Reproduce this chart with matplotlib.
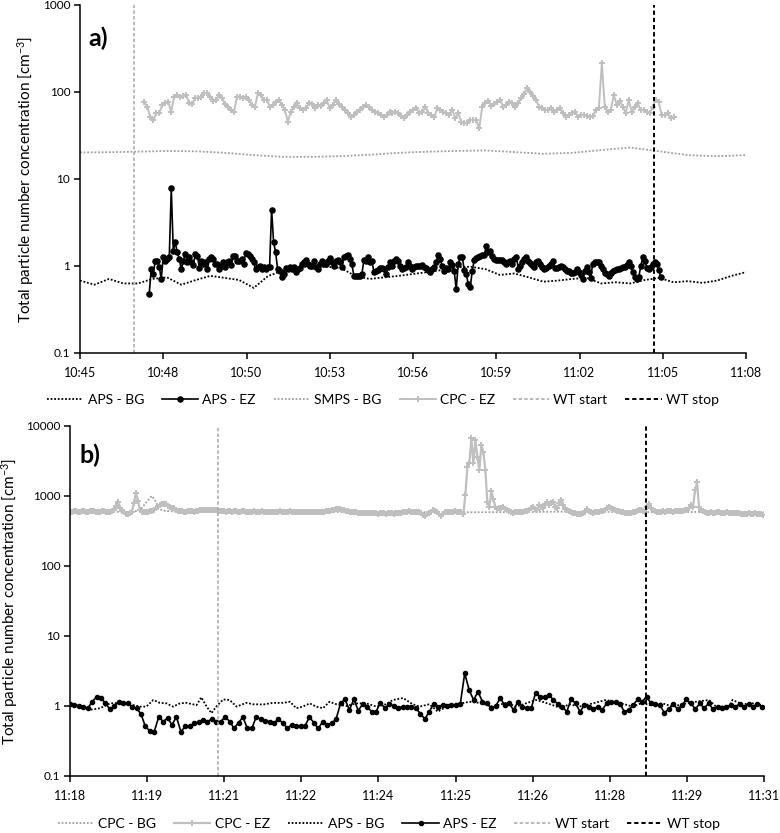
import numpy as np
import matplotlib
matplotlib.use("Agg")
import matplotlib.pyplot as plt
from matplotlib.ticker import NullLocator

plt.rcParams["font.family"] = ["Lato", "DejaVu Sans"]
plt.rcParams["mathtext.default"] = "regular"

# ---------------- panel a) 10:45 - 11:08 ----------------
A_TICK_LABELS = ["10:45", "10:48", "10:50", "10:53", "10:56", "10:59", "11:02", "11:05", "11:08"]
A_SPAN_MIN = 23.0          # minutes shown on the axis
A_WT_START = 1.87          # minutes after 10:45
A_WT_STOP = 19.82

# APS background, one value every 0.5 min from 10:45
A_APS_BG = [0.68, 0.61, 0.71, 0.63, 0.63, 0.71, 0.74, 0.61, 0.69, 0.77,
            0.73, 0.69, 0.56, 0.77, 0.88, 0.95, 1.00, 0.98, 0.95, 0.77,
            0.71, 0.74, 0.77, 0.81, 0.85, 0.90, 0.97, 0.98, 0.92, 0.79,
            0.82, 0.74, 0.66, 0.68, 0.71, 0.73, 0.63, 0.65, 0.63, 0.69,
            0.73, 0.65, 0.67, 0.64, 0.68, 0.77, 0.85]

# SMPS background, one value per minute from 10:45
A_SMPS_BG = [20.2, 20.3, 20.6, 21.0, 20.8, 20.0, 18.8, 18.0, 18.0, 18.3,
             19.0, 20.0, 20.6, 21.0, 21.3, 20.4, 19.5, 20.0, 21.5, 23.0,
             20.8, 18.8, 18.3, 18.8]

# APS exposure zone, evenly sampled between the two times below
A_APS_EZ_T = (2.39, 20.06)
A_APS_EZ = [0.48, 0.92, 0.81, 1.15, 1.15, 0.98, 0.71, 1.26, 1.15, 1.20,
            1.26, 7.8, 1.50, 1.87, 1.44, 1.20, 0.92, 1.15, 1.37, 1.10,
            1.26, 1.10, 1.04, 1.37, 1.31, 0.95, 1.15, 1.05, 1.10, 0.92,
            1.20, 1.26, 1.20, 1.05, 1.05, 0.92, 1.01, 1.10, 0.98, 1.10,
            1.15, 1.04, 1.31, 1.31, 1.15, 1.15, 1.20, 1.05, 1.40, 1.37,
            1.31, 1.20, 1.10, 0.92, 0.98, 1.01, 0.92, 0.98, 0.92, 0.98,
            0.98, 4.45, 1.87, 1.44, 0.92, 0.88, 0.75, 0.81, 0.95, 0.92,
            0.97, 0.92, 0.98, 0.85, 0.92, 0.95, 1.05, 1.10, 1.17, 1.05,
            1.01, 1.01, 1.15, 0.98, 0.92, 1.05, 1.15, 1.05, 1.05, 1.15,
            1.24, 1.10, 1.01, 1.15, 1.17, 1.10, 0.97, 1.26, 1.31, 1.34,
            1.20, 1.05, 0.77, 0.77, 0.77, 0.77, 0.81, 1.17, 1.15, 1.26,
            1.10, 1.15, 0.85, 0.88, 0.90, 0.95, 0.95, 0.92, 0.81, 0.97,
            1.10, 1.01, 1.15, 1.20, 1.15,
            1.00, 0.92, 0.95, 0.98, 1.10, 1.00, 0.92, 0.97, 1.00, 1.01,
            1.01, 1.02, 0.98, 0.95, 0.90, 0.85,
            0.92, 0.98, 1.10, 1.35, 1.20, 1.00, 0.88, 0.95, 0.92, 1.10,
            1.02, 0.88, 0.54, 1.05, 1.26, 1.28,
            0.90, 0.81, 0.62, 0.57, 0.88, 1.17, 1.24, 1.28, 1.31, 1.33,
            1.34, 1.70, 1.44, 1.50, 1.30,
            1.20, 1.18, 1.17, 1.17, 1.16, 1.12, 1.05, 1.10, 1.15, 1.05,
            1.20, 1.28, 0.92, 1.01, 1.12, 1.20, 1.26, 1.15, 1.08, 1.02, 0.97,
            1.10, 1.15, 1.05, 0.98, 0.92, 0.96, 1.00, 1.05, 1.15, 0.95,
            0.94, 0.97, 1.01, 0.97, 0.92, 0.88,
            0.88, 0.84, 0.82, 0.86, 0.92, 0.86, 0.78, 0.71, 0.88, 0.98,
            0.85, 0.73, 1.05, 1.10,
            1.10, 1.10, 1.00, 0.92, 0.84, 0.80, 0.77, 0.82, 0.88, 0.90,
            0.92, 0.92, 0.95, 0.97, 0.97, 1.02, 1.10, 1.00, 0.85, 0.74,
            0.71, 0.75, 1.00, 1.26, 1.15, 0.95, 0.92, 0.98, 1.05, 1.10,
            1.05, 0.90, 0.74]

# CPC exposure zone
A_CPC_EZ_T = (2.22, 20.50)
A_CPC_EZ = [76.0, 67.8, 52.0, 47.7, 56.9, 57.8, 70.9, 74.1, 77.4, 59.4,
            88.4, 92.4, 88.4, 90.8, 92.4, 74.1, 72.8, 84.6, 86.0, 88.4,
            96.5, 98.3, 88.4, 79.5, 80.9, 92.4, 84.6, 72.8, 66.7, 62.1,
            59.4, 88.4, 88.4, 84.6, 88.4, 80.9, 70.9, 67.8, 96.5, 92.4,
            80.9, 80.9, 67.8, 70.9, 77.4, 80.9, 70.9, 62.1, 45.6, 59.4,
            67.8, 74.1, 64.9, 62.1, 64.9, 74.1, 72.8, 64.9, 70.9, 69.0,
            74.1, 80.9, 64.9, 70.9, 80.9, 72.8, 67.8, 62.1, 56.9, 52.0,
            54.4, 59.4, 62.1, 67.8, 70.9, 67.8, 62.1, 59.4, 56.9, 54.4,
            52.0, 54.4, 59.4, 56.9,
            59.4, 56.9, 53.0, 49.8, 54.4, 59.4, 62.1, 64.9, 56.9, 59.4,
            67.8, 56.9, 54.4, 52.0, 64.9, 62.1, 59.4, 56.9, 54.4, 62.1,
            49.8, 56.9, 45.6, 44.4, 43.6, 47.7, 47.7, 47.7, 38.2, 67.8,
            74.1, 79.5, 69.0, 72.8, 77.4, 80.9, 67.8, 70.9, 77.4, 74.1,
            67.8, 75.0, 85.0, 95.0, 110.0, 100.0, 90.0, 80.9, 67.8, 64.9,
            62.1, 62.1, 64.9, 59.4, 62.1, 64.9, 56.9, 52.0, 54.4, 56.9,
            59.4, 52.0, 54.4, 54.4, 53.0, 52.0, 53.0, 62.1, 64.9, 213.0,
            67.8, 59.4, 62.1, 92.4, 70.9, 79.5, 67.8, 56.9, 80.9, 59.4,
            67.8, 74.1, 62.1, 62.1, 59.4, 56.9, 67.8, 80.9, 77.4, 54.4,
            54.4, 56.9, 49.8, 51.2]

# ---------------- panel b) 11:18 - 11:31 ----------------
B_TICK_LABELS = ["11:18", "11:19", "11:21", "11:22", "11:24", "11:25", "11:26", "11:28", "11:29", "11:31"]
B_SPAN_MIN = 13.0
B_WT_START = 2.78
B_WT_STOP = 10.79

# CPC background (minutes after 11:18, value)
B_CPC_BG_T = [0.00, 0.37, 0.75, 1.12, 1.31, 1.40, 1.48, 1.53, 1.59, 1.65,
              1.72, 1.96, 2.43, 3.37, 4.30, 5.24, 6.17, 7.11, 7.48, 8.04,
              8.60, 9.17, 9.91, 10.85, 11.78, 13.00]
B_CPC_BG = [590, 600, 595, 590, 620, 760, 900, 1000, 880, 720,
            620, 600, 605, 600, 590, 595, 585, 590, 585, 588,
            592, 597, 595, 590, 592, 585]

# CPC exposure zone, evenly sampled
B_CPC_EZ_T = (0.0, 12.98)
B_CPC_EZ = [600, 590, 610, 605, 595, 600, 615, 605, 590, 600,
            610, 620, 605, 595, 590, 600, 612, 605, 598, 590,
            600, 615, 640,
            720, 830, 680, 620, 590, 560, 555, 570, 600, 800,
            1100, 860, 640, 590, 585, 597, 600, 605, 620, 640,
            667, 690, 740, 769, 760, 769, 720, 705, 680, 667,
            640, 620, 611,
            605, 600, 598, 602, 610, 606, 600, 612, 620,
            625, 632, 628, 635, 630, 622, 630, 640, 628, 620, 615,
            610, 605, 600, 612, 606, 598, 604, 610, 600, 595,
            602, 608, 600, 596, 590, 598, 604, 600, 594, 600,
            605, 598, 592, 600, 596, 590, 585, 592, 598, 602,
            595, 590, 596, 600, 604, 598, 592, 588, 594,
            590, 585, 592, 596, 588, 584, 590, 595, 598, 590,
            586, 592, 600, 605, 610, 620, 630, 640,
            650, 655, 645, 640, 630, 620,
            610, 600, 595, 590, 585, 580, 575, 570, 565, 568,
            572, 566, 570, 575, 568, 562, 570, 574, 568, 560,
            565, 570, 566, 562, 568, 572, 575,
            580, 590, 597, 600, 605, 600, 595, 598, 600, 590,
            570, 530, 518, 555, 580, 600, 625, 620, 590, 545,
            518, 560, 590, 597, 600, 595, 600, 605, 598, 590, 585,
            560, 1050, 2620, 3000, 6667, 2930, 6310, 3650, 2350, 5350,
            4300, 2350, 830, 705, 1170, 900, 705,
            650, 667, 680, 689, 660, 631, 610, 590, 578, 585,
            590, 597, 600, 597, 605, 620, 631, 670, 689, 650,
            631, 743, 700, 667, 780, 830, 743, 790, 830, 700,
            667, 800, 877, 743, 660, 631, 605, 590, 578, 570,
            560, 553, 560, 575, 597, 652, 610, 585, 578, 585,
            592, 597, 605, 615, 640, 670, 689, 665, 652, 635,
            620, 611, 600, 590, 580, 570, 565, 575, 590, 597,
            620, 635, 640, 620, 585, 700, 769, 680, 631, 610,
            600, 597, 600, 605, 598, 602, 610, 605, 600, 606,
            612, 611, 605, 615, 625, 631, 680, 743, 700, 1200,
            1568, 689, 631, 610, 590, 578, 580, 585, 575, 580,
            590, 585, 578, 572, 580, 585, 578, 570, 575, 580,
            572, 565, 560, 555, 553, 560, 565, 558, 560, 565,
            560, 555, 545, 535]

# APS background (minutes after 11:18, value)
B_APS_BG_T = [0.00, 0.19, 0.37, 0.56, 0.75, 0.94, 1.12, 1.31, 1.43, 1.56,
              1.68, 1.81, 1.93, 2.06, 2.18, 2.37, 2.46, 2.56, 2.65, 2.74,
              2.87, 2.99, 3.12, 3.30, 3.43, 3.62, 3.80, 3.99, 4.12, 4.24,
              4.36, 4.49, 4.61, 4.74, 4.86, 4.99, 5.18, 5.36, 5.55, 5.74,
              5.92, 6.05, 6.24, 6.42, 6.55, 6.73, 6.89, 7.05, 7.20, 7.33,
              7.48, 7.67, 7.92, 8.17, 8.36, 8.54, 8.73, 8.85, 9.04, 9.20,
              9.35, 9.54, 9.79, 10.04, 10.29, 10.54, 10.72, 10.85, 11.10, 11.29,
              11.47, 11.72, 11.97, 12.10, 12.35, 12.41, 12.59, 12.78, 12.97]
B_APS_BG = [1.06, 0.98, 0.88, 0.93, 1.09, 1.11, 1.06, 0.98, 0.98, 1.22,
            1.11, 1.09, 0.98, 1.09, 1.11, 1.03, 1.33, 0.98, 0.79, 0.98,
            1.24, 1.22, 0.98, 1.11, 1.06, 1.05, 1.11, 1.11, 1.15, 0.93,
            0.98, 1.09, 0.98, 0.93, 1.15, 1.06, 1.00, 1.09, 1.09, 0.98,
            1.06, 1.22, 1.30, 1.06, 0.98, 1.06, 0.83, 0.98, 1.06, 1.09,
            1.15, 1.11, 0.98, 1.11, 0.98, 1.09, 1.22, 1.15, 1.03, 0.93,
            1.06, 0.98, 1.09, 1.22, 1.11, 0.98, 1.11, 1.03, 1.09, 0.98,
            1.06, 1.15, 1.22, 0.98, 0.98, 1.22, 1.06, 1.09, 1.03]

# APS exposure zone, evenly sampled
B_APS_EZ_T = (0.0, 12.96)
B_APS_EZ = [1.07, 1.03, 1.01, 0.98, 0.93, 1.15, 1.36, 1.30, 1.09, 0.90,
            1.00, 1.15, 1.12, 1.09, 0.98, 0.93, 0.77, 0.51, 0.44, 0.43,
            0.70, 0.60, 0.67, 0.54, 0.70, 0.43, 0.51, 0.51, 0.57, 0.60,
            0.63, 0.60, 0.65, 0.60, 0.60, 0.70, 0.60, 0.48, 0.58, 0.69,
            0.48, 0.48, 0.70, 0.65, 0.61, 0.60, 0.57, 0.65, 0.57, 0.48,
            0.54, 0.52, 0.52, 0.52, 0.70, 0.57, 0.48, 0.60, 0.54, 0.57,
            0.65, 1.09, 1.25, 0.88, 1.25, 0.86, 1.07, 0.98, 0.83, 0.83,
            1.12, 0.93, 1.07, 1.00, 0.93, 0.98,
            0.98, 0.98, 0.93, 0.78, 0.65, 0.83, 1.07, 0.98, 1.03, 1.00,
            1.02, 1.03, 1.07, 2.93, 1.69, 1.22, 1.60, 1.15, 1.09, 0.93,
            1.00, 1.30, 1.03, 1.09, 0.88, 1.15, 0.98, 0.93, 0.93, 1.55,
            1.36, 1.36, 1.44, 1.22, 1.07, 0.98, 0.83, 1.25, 1.09, 0.83,
            1.03, 0.98, 0.90, 0.98, 0.88, 1.09, 1.15, 1.15, 1.07, 0.83,
            0.88, 1.03, 1.25, 1.15, 1.36, 1.09, 1.07, 1.03, 0.80, 0.90,
            1.07, 0.90, 1.03, 1.25, 1.09, 0.90, 1.09, 0.93, 1.09, 0.90,
            0.98, 0.93, 0.98, 1.03, 0.98, 1.07, 0.98, 1.07, 0.98, 1.07,
            0.98]

LIGHT_GREY = "#BFBFBF"
DOT_GREY = "#9E9E9E"
DASH_GREY = "#A6A6A6"
DOTTED = (0, (1, 1))
DASHED = (0, (2.2, 1.5))

W, H = 780, 833


def evenly(t_range, values):
    return np.linspace(t_range[0], t_range[1], len(values))


def style_axis(ax, labels, span, top):
    ax.set_yscale("log")
    ax.set_ylim(0.1, top)
    ax.set_xlim(0, span)
    yt = [10.0 ** k for k in range(-1, int(round(np.log10(top))) + 1)]
    ax.set_yticks(yt)
    ax.set_yticklabels([("%g" % v) for v in yt])
    ax.yaxis.set_minor_locator(NullLocator())
    ax.set_xticks(np.linspace(0, span, len(labels)))
    ax.set_xticklabels(labels)
    for s in ("top", "right"):
        ax.spines[s].set_visible(False)
    for s in ("left", "bottom"):
        ax.spines[s].set_linewidth(1.1)
    ax.tick_params(axis="y", direction="out", length=4, width=1.1, labelsize=8.5, pad=3)
    ax.tick_params(axis="x", direction="out", length=4, width=1.1, labelsize=9, pad=6)


def px_axes(left, top, right, bottom):
    return fig.add_axes([left / W, 1 - bottom / H, (right - left) / W, (bottom - top) / H])


fig = plt.figure(figsize=(W / 100, H / 100), dpi=100)
ylabel = "Total particle number concentration [cm$^{-3}$]"
leg_kw = dict(loc="center", ncol=6, frameon=False, fontsize=10, handlelength=2.6,
              handletextpad=0.3, columnspacing=1.3, numpoints=1)

# ---- a) ----
ax = px_axes(80, 5, 746, 353)
style_axis(ax, A_TICK_LABELS, A_SPAN_MIN, 1000)
ax.plot(np.linspace(0, A_SPAN_MIN, len(A_APS_BG)), A_APS_BG, color="black", ls=DOTTED, lw=1.3, label="APS - BG")
ax.plot(evenly(A_APS_EZ_T, A_APS_EZ), A_APS_EZ, color="black", lw=1.2, marker="o", ms=3.7, label="APS - EZ")
ax.plot(np.linspace(0, A_SPAN_MIN, len(A_SMPS_BG)), A_SMPS_BG, color=DOT_GREY, ls=DOTTED, lw=1.3, label="SMPS - BG")
ax.plot(evenly(A_CPC_EZ_T, A_CPC_EZ), A_CPC_EZ, color=LIGHT_GREY, lw=1.4, marker="P", ms=4.0, mew=0, label="CPC - EZ")
ax.axvline(A_WT_START, color=DASH_GREY, ls=DASHED, lw=1.1, label="WT start")
ax.axvline(A_WT_STOP, color="black", ls=DASHED, lw=1.4, label="WT stop")
ax.text(0.012, 0.905, "a)", transform=ax.transAxes, fontsize=18, fontweight="bold", ha="left", va="center")
fig.text(26 / W, 1 - 179 / H, ylabel, rotation=90, ha="center", va="center", fontsize=11)
h, l = ax.get_legend_handles_labels()
fig.legend(h, l, bbox_to_anchor=(383 / W, 1 - 400 / H), **leg_kw)

# ---- b) ----
ax = px_axes(70, 426, 764, 776)
style_axis(ax, B_TICK_LABELS, B_SPAN_MIN, 10000)
ax.plot(B_CPC_BG_T, B_CPC_BG, color=DOT_GREY, ls=DOTTED, lw=1.3, label="CPC - BG")
ax.plot(evenly(B_CPC_EZ_T, B_CPC_EZ), B_CPC_EZ, color=LIGHT_GREY, lw=1.6, marker="P", ms=4.3, mew=0, label="CPC - EZ")
ax.plot(B_APS_BG_T, B_APS_BG, color="black", ls=DOTTED, lw=1.3, label="APS - BG")
ax.plot(evenly(B_APS_EZ_T, B_APS_EZ), B_APS_EZ, color="black", lw=1.2, marker="o", ms=3.0, label="APS - EZ")
ax.axvline(B_WT_START, color=DASH_GREY, ls=DASHED, lw=1.1, label="WT start")
ax.axvline(B_WT_STOP, color="black", ls=DASHED, lw=1.4, label="WT stop")
ax.text(0.014, 0.917, "b)", transform=ax.transAxes, fontsize=18, fontweight="bold", ha="left", va="center")
fig.text(10 / W, 1 - 601 / H, ylabel, rotation=90, ha="center", va="center", fontsize=11)
h, l = ax.get_legend_handles_labels()
fig.legend(h, l, bbox_to_anchor=(389 / W, 1 - 824 / H), **leg_kw)

fig.savefig("out.png", dpi=100)
